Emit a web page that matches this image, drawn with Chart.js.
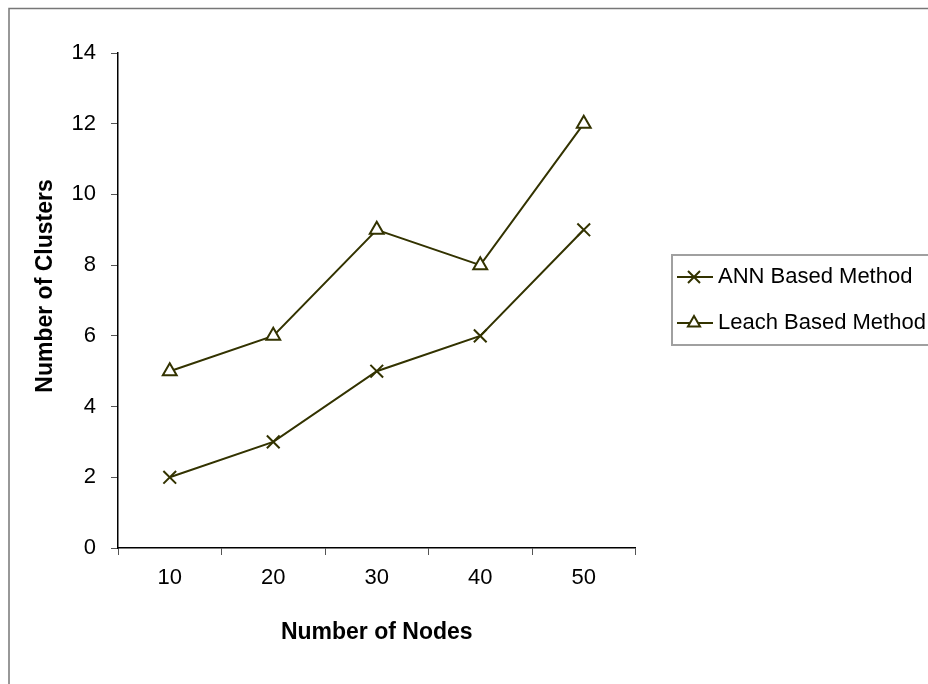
<!DOCTYPE html>
<html>
<head>
<meta charset="utf-8">
<script src="https://cdn.jsdelivr.net/npm/chart.js@4/dist/chart.umd.min.js"></script>
<style>
  html, body { margin: 0; padding: 0; background: #ffffff; }
  #wrap { width: 928px; height: 684px; position: relative; }
</style>
</head>
<body>
<div id="wrap"><canvas id="c" width="928" height="684"></canvas></div>
<script>
const categories = ['10', '20', '30', '40', '50'];
const annValues = [2, 3, 5, 6, 9];
const leachValues = [5, 6, 9, 8, 12];
const seriesNames = ['ANN Based Method', 'Leach Based Method'];
const xTitle = 'Number of Nodes';
const yTitle = 'Number of Clusters';
const yMin = 0, yMax = 14, yStep = 2;

const LINE = '#333300';
const FONT = '"Liberation Sans", Arial, sans-serif';

function drawMarker(ctx, style, x, y) {
  ctx.save();
  ctx.strokeStyle = LINE;
  ctx.lineWidth = 2;
  ctx.beginPath();
  if (style === 'crossRot') {
    const d = 6;
    ctx.moveTo(x - d, y - d); ctx.lineTo(x + d, y + d);
    ctx.moveTo(x + d, y - d); ctx.lineTo(x - d, y + d);
    ctx.stroke();
  } else {
    const r = 7;
    ctx.moveTo(x, y - r);
    ctx.lineTo(x + r * 0.866, y + r * 0.5);
    ctx.lineTo(x - r * 0.866, y + r * 0.5);
    ctx.closePath();
    ctx.fillStyle = '#ffffff';
    ctx.fill();
    ctx.stroke();
  }
  ctx.restore();
}

const decorPlugin = {
  id: 'decor',
  beforeDraw(chart) {
    const ctx = chart.ctx;
    ctx.save();
    ctx.fillStyle = '#ffffff';
    ctx.fillRect(0, 0, chart.width, chart.height);
    ctx.restore();
  },
  afterDraw(chart) {
    const ctx = chart.ctx;
    const area = chart.chartArea;
    ctx.save();
    // outer chart border
    ctx.strokeStyle = '#777777';
    ctx.lineWidth = 1.5;
    ctx.strokeRect(9, 8.5, 940, 700);

    // axis titles
    ctx.fillStyle = '#000000';
    ctx.font = 'bold 23px ' + FONT;
    ctx.textAlign = 'center';
    ctx.textBaseline = 'middle';
    ctx.fillText(xTitle, (area.left + area.right) / 2, 633);
    ctx.save();
    ctx.translate(46, 286);
    ctx.rotate(-Math.PI / 2);
    ctx.fillText(yTitle, 0, 0);
    ctx.restore();

    // legend
    const boxL = 672, boxT = 255, boxB = 345;
    ctx.strokeStyle = '#a0a0a0';
    ctx.lineWidth = 2;
    ctx.strokeRect(boxL, boxT, 400, boxB - boxT);
    const rows = [277, 323];
    const styles = ['crossRot', 'triangle'];
    chart.data.datasets.forEach((ds, i) => {
      const y = rows[i];
      ctx.strokeStyle = LINE;
      ctx.lineWidth = 2;
      ctx.beginPath();
      ctx.moveTo(677, y);
      ctx.lineTo(713, y);
      ctx.stroke();
      drawMarker(ctx, styles[i], 694, y);
      ctx.fillStyle = '#000000';
      ctx.font = '22px ' + FONT;
      ctx.textAlign = 'left';
      ctx.textBaseline = 'middle';
      ctx.fillText(ds.label, 718, y);
    });
    ctx.restore();
  }
};

new Chart(document.getElementById('c'), {
  type: 'line',
  data: {
    labels: categories,
    datasets: [
      {
        label: seriesNames[0],
        data: annValues,
        borderColor: LINE,
        backgroundColor: LINE,
        borderWidth: 2,
        pointStyle: 'crossRot',
        pointRadius: 9,
        pointBorderWidth: 2,
        pointBorderColor: LINE,
        tension: 0,
        fill: false
      },
      {
        label: seriesNames[1],
        data: leachValues,
        borderColor: LINE,
        backgroundColor: '#ffffff',
        borderWidth: 2,
        pointStyle: 'triangle',
        pointRadius: 8,
        pointBorderWidth: 2,
        pointBorderColor: LINE,
        pointBackgroundColor: '#ffffff',
        tension: 0,
        fill: false
      }
    ]
  },
  options: {
    responsive: false,
    animation: false,
    devicePixelRatio: 1,
    layout: { padding: { left: 0, right: 292.5, top: 53, bottom: 0 } },
    plugins: {
      legend: { display: false },
      tooltip: { enabled: false }
    },
    scales: {
      x: {
        type: 'category',
        offset: true,
        afterFit(scale) { scale.height = 136; },
        border: { display: true, color: '#000000', width: 1.5 },
        grid: {
          offset: true,
          drawOnChartArea: false,
          drawTicks: true,
          tickLength: 7,
          color: '#555555'
        },
        ticks: {
          color: '#000000',
          font: { family: FONT, size: 22 },
          padding: 10,
          maxRotation: 0
        },
        title: { display: false }
      },
      y: {
        min: yMin,
        max: yMax,
        afterFit(scale) { scale.width = 118; },
        border: { display: true, color: '#000000', width: 1.5 },
        grid: {
          drawOnChartArea: false,
          drawTicks: true,
          tickLength: 7,
          color: '#555555'
        },
        ticks: {
          stepSize: yStep,
          color: '#000000',
          font: { family: FONT, size: 22 },
          padding: 15
        },
        title: { display: false }
      }
    }
  },
  plugins: [decorPlugin]
});
</script>
</body>
</html>
